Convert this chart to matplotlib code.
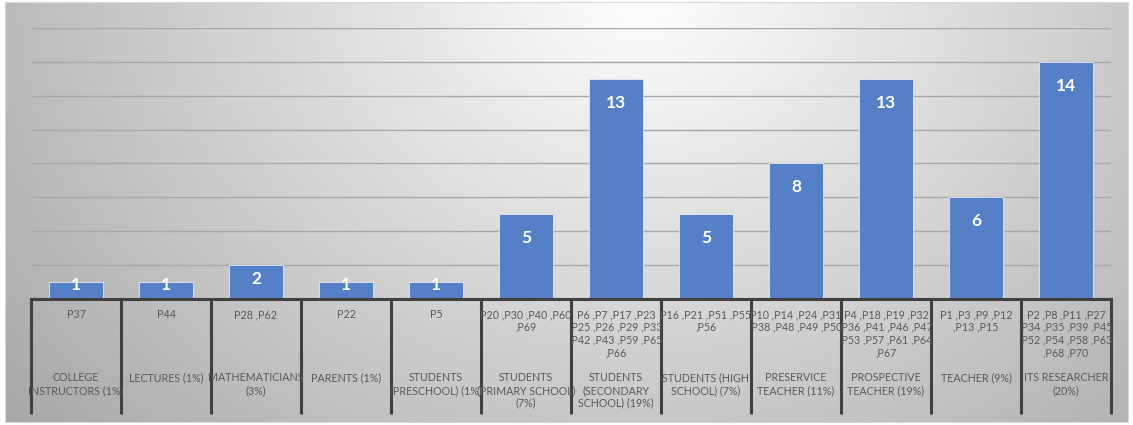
import numpy as np
import matplotlib
matplotlib.use("Agg")
import matplotlib.pyplot as plt
from matplotlib.transforms import blended_transform_factory

plt.rcParams['font.family'] = ['Lato', 'DejaVu Sans']

# participants per group
groups = ["COLLEGE\nINSTRUCTORS (1%)", "LECTURES (1%)", "MATHEMATICIANS\n(3%)",
          "PARENTS (1%)", "STUDENTS\n(PRESCHOOL) (1%)", "STUDENTS\n(PRIMARY SCHOOL)\n(7%)",
          "STUDENTS\n(SECONDARY\nSCHOOL) (19%)", "STUDENTS (HIGH\nSCHOOL) (7%)",
          "PRESERVICE\nTEACHER (11%)", "PROSPECTIVE\nTEACHER (19%)", "TEACHER (9%)",
          "ITS RESEARCHER\n(20%)"]
ids = ["P37", "P44", "P28 ,P62", "P22", "P5",
       "P20 ,P30 ,P40 ,P60\n,P69",
       "P6 ,P7 ,P17 ,P23\n,P25 ,P26 ,P29 ,P33\n,P42 ,P43 ,P59 ,P65\n,P66",
       "P16 ,P21 ,P51 ,P55\n,P56",
       "P10 ,P14 ,P24 ,P31\n,P38 ,P48 ,P49 ,P50",
       "P4 ,P18 ,P19 ,P32\n,P36 ,P41 ,P46 ,P47\n,P53 ,P57 ,P61 ,P64\n,P67",
       "P1 ,P3 ,P9 ,P12\n,P13 ,P15",
       "P2 ,P8 ,P11 ,P27\n,P34 ,P35 ,P39 ,P45\n,P52 ,P54 ,P58 ,P63\n,P68 ,P70"]
counts = [1, 1, 2, 1, 1, 5, 13, 5, 8, 13, 6, 14]

W, H = 1133, 425
fig = plt.figure(figsize=(W / 100, H / 100), dpi=100)

# radial grey background of the chart area
bg = fig.add_axes([0, 0, 1, 1])
xx, yy = np.meshgrid(np.arange(W), np.arange(H))
d = np.hypot(xx - 640, (yy + 10) * 1.2) / 650
shade = np.clip(255 - 70 * np.clip(d, 0, 1.25), 0, 255) / 255
img = np.dstack([shade, shade, shade])
img[:, :5] = 1
img[:, 1129:] = 1
img[:2] = 1
img[423:] = 1
bg.imshow(img, extent=(0, W, H, 0), aspect='auto', interpolation='nearest', zorder=0)
bg.plot([5, 1128, 1128, 5, 5], [2, 2, 422, 422, 2], color='#d9d9d9', lw=0.8)
bg.set_xlim(0, W)
bg.set_ylim(H, 0)
bg.axis('off')

x0, x1, ybase, ytop = 31, 1111, 299, 28
ax = fig.add_axes([x0 / W, 1 - ybase / H, (x1 - x0) / W, (ybase - ytop) / H])
ax.patch.set_alpha(0)
x = np.arange(len(counts))
ax.set_xlim(-0.5, len(counts) - 0.5)
ax.set_ylim(0, 16)
ax.set_yticks(np.arange(2, 17, 2))
ax.yaxis.grid(True, color='#a8a8a8', lw=1.0)
ax.set_axisbelow(True)
ax.tick_params(left=False, bottom=False, labelleft=False, labelbottom=False)
for s in ['top', 'right', 'left']:
    ax.spines[s].set_visible(False)
ax.spines['bottom'].set_color('#404040')
ax.spines['bottom'].set_linewidth(2.2)

bars = ax.bar(x, counts, width=0.59, color='#5580c8', edgecolor='#e2eaf6',
              linewidth=0.6, zorder=2)

for xi, v in zip(x, counts):
    yc = v - min(1.4, 0.2 + 0.6 * (v - 1))
    ax.text(xi, yc, str(v), color='white', fontsize=12.5, fontweight='bold',
            ha='center', va='center', zorder=3)

# two-level category axis below the bars
px = (ybase - ytop)
tr = blended_transform_factory(ax.transData, ax.transAxes)
for i in range(len(counts) + 1):
    ax.plot([i - 0.5, i - 0.5], [0, -(414 - ybase) / px], transform=tr,
            color='#404040', lw=2.2, clip_on=False, solid_capstyle='butt')
for xi, lab, name in zip(x, ids, groups):
    ax.text(xi, -(309 - ybase) / px, lab, transform=tr, ha='center', va='top',
            fontsize=7.7, color='#595959', linespacing=1.2)
    ax.text(xi, -(372 - ybase) / px, name, transform=tr, ha='center', va='top',
            fontsize=7.7, color='#595959', linespacing=1.2)

fig.savefig('out.png', dpi=100)
